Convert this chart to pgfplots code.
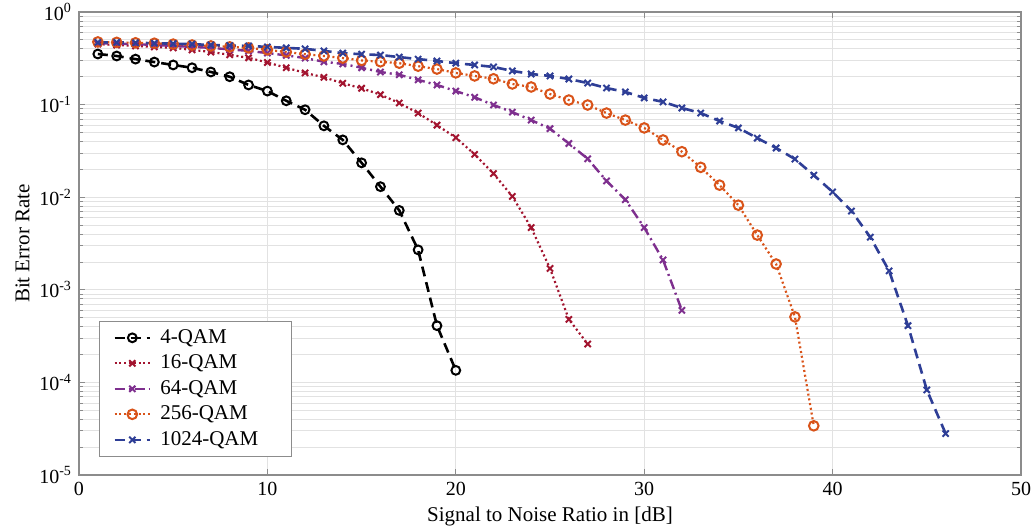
\documentclass[border=0pt]{standalone}
\usepackage{pgfplots}
\pgfplotsset{compat=1.18}
\usepackage{fontspec}
\setmainfont{Liberation Serif}

\definecolor{qam4}{RGB}{0,0,0}
\definecolor{qam16}{RGB}{162,20,47}
\definecolor{qam64}{RGB}{126,47,142}
\definecolor{qam256}{RGB}{217,83,25}
\definecolor{qam1024}{RGB}{46,62,150}
\definecolor{gridgray}{RGB}{226,226,226}
\definecolor{boxgray}{RGB}{140,140,140}

\begin{document}
\begin{tikzpicture}
\begin{semilogyaxis}[
  scale only axis,
  width=471pt, height=231.5pt,
  xmin=0, xmax=50, ymin=1e-5, ymax=1,
  xtick={0,10,20,30,40,50},
  ytick={1e-5,1e-4,1e-3,1e-2,1e-1,1},
  yticklabels={10\textsuperscript{-5},10\textsuperscript{-4},10\textsuperscript{-3},10\textsuperscript{-2},10\textsuperscript{-1},10\textsuperscript{0}},
  /pgf/number format/assume math mode=true,
  tick label style={font=\fontsize{10}{12}\selectfont},
  label style={font=\fontsize{10.5}{12}\selectfont},
  xlabel={Signal to Noise Ratio in [dB]},
  ylabel={Bit Error Rate},
  xlabel style={yshift=1pt},
  ylabel style={yshift=-2pt},
  xmajorgrids, ymajorgrids, yminorgrids,
  major grid style={gridgray, line width=0.5pt},
  minor grid style={gridgray, line width=0.4pt},
  axis line style={boxgray, line width=0.7pt},
  tick style={boxgray, line width=0.4pt},
  major tick length=3pt, minor tick length=2pt,
  tick align=inside,
  legend cell align=left,
  legend style={at={(0.021,0.039)}, anchor=south west, draw=boxgray, line width=0.6pt,
    font=\fontsize{10.5}{12}\selectfont, inner xsep=7pt, inner ysep=2pt,
    row sep=0.3pt, /tikz/column sep=2.5pt},
  legend image code/.code={
    \draw[mark repeat=2,mark phase=2] plot coordinates {(0cm,0cm) (0.31cm,0cm) (0.62cm,0cm)};
  },
]
% 4-QAM
\addplot[qam4, line width=1.3pt, dash pattern=on 5pt off 3pt,
  mark=o, mark size=2.2pt, mark options={solid, line width=1pt}]
  coordinates {
  (1,0.352) (2,0.335) (3,0.31) (4,0.288) (5,0.268) (6,0.25) (7,0.225)
  (8,0.2) (9,0.163) (10,0.14) (11,0.11) (12,0.088) (13,0.059) (14,0.0416)
  (15,0.0235) (16,0.013) (17,0.0072) (18,0.0027) (19,0.00041) (20,0.000135)
  };
\addlegendentry{4-QAM}
% 16-QAM
\addplot[qam16, line width=1.1pt, dash pattern=on 1pt off 1.4pt,
  mark=x, mark size=2.2pt, mark options={solid, line width=1pt}]
  coordinates {
  (1,0.45) (2,0.44) (3,0.43) (4,0.42) (5,0.41) (6,0.39) (7,0.37)
  (8,0.345) (9,0.32) (10,0.285) (11,0.25) (12,0.22) (13,0.197) (14,0.17)
  (15,0.15) (16,0.128) (17,0.104) (18,0.081) (19,0.06) (20,0.044)
  (21,0.029) (22,0.018) (23,0.0102) (24,0.0047) (25,0.0017) (26,0.00048)
  (27,0.00026)
  };
\addlegendentry{16-QAM}
% 64-QAM
\addplot[qam64, line width=1.2pt, dash pattern=on 5pt off 2pt on 1pt off 2pt,
  mark=x, mark size=2.2pt, mark options={solid, line width=1pt}]
  coordinates {
  (1,0.46) (2,0.455) (3,0.45) (4,0.44) (5,0.43) (6,0.42) (7,0.41)
  (8,0.395) (9,0.38) (10,0.36) (11,0.34) (12,0.318) (13,0.29) (14,0.275)
  (15,0.25) (16,0.225) (17,0.21) (18,0.185) (19,0.163) (20,0.14)
  (21,0.12) (22,0.099) (23,0.083) (24,0.068) (25,0.055) (26,0.038)
  (27,0.026) (28,0.015) (29,0.0094) (30,0.0047) (31,0.0021) (32,0.0006)
  };
\addlegendentry{64-QAM}
% 256-QAM
\addplot[qam256, line width=1.1pt, dash pattern=on 1pt off 1.4pt,
  mark=o, mark size=2.4pt, mark options={solid, line width=1pt}]
  coordinates {
  (1,0.475) (2,0.47) (3,0.465) (4,0.46) (5,0.45) (6,0.44) (7,0.43)
  (8,0.42) (9,0.41) (10,0.39) (11,0.37) (12,0.35) (13,0.335) (14,0.318)
  (15,0.30) (16,0.29) (17,0.28) (18,0.26) (19,0.242) (20,0.22)
  (21,0.204) (22,0.19) (23,0.167) (24,0.155) (25,0.13) (26,0.112)
  (27,0.099) (28,0.081) (29,0.068) (30,0.056) (31,0.0415) (32,0.031)
  (33,0.021) (34,0.0135) (35,0.0082) (36,0.0039) (37,0.0019) (38,0.00051)
  (39,0.000034)
  };
\addlegendentry{256-QAM}
% 1024-QAM
\addplot[qam1024, line width=1.3pt, dash pattern=on 5pt off 3pt,
  mark=x, mark size=2.2pt, mark options={solid, line width=1pt}]
  coordinates {
  (1,0.47) (2,0.47) (3,0.465) (4,0.46) (5,0.455) (6,0.45) (7,0.44)
  (8,0.435) (9,0.43) (10,0.42) (11,0.41) (12,0.40) (13,0.38) (14,0.36)
  (15,0.35) (16,0.343) (17,0.326) (18,0.31) (19,0.296) (20,0.28)
  (21,0.268) (22,0.255) (23,0.231) (24,0.214) (25,0.204) (26,0.189)
  (27,0.171) (28,0.151) (29,0.137) (30,0.118) (31,0.107) (32,0.092)
  (33,0.081) (34,0.0665) (35,0.056) (36,0.0435) (37,0.034) (38,0.0258)
  (39,0.0173) (40,0.0114) (41,0.0071) (42,0.0037) (43,0.0016) (44,0.00041)
  (45,0.000083) (46,0.000028)
  };
\addlegendentry{1024-QAM\hspace*{7.5pt}}
\end{semilogyaxis}
\pgfresetboundingbox
\path ([shift={(-39.5pt,-27.5pt)}]current axis.south west)
  rectangle ([shift={(6pt,6pt)}]current axis.north east);
\end{tikzpicture}
\end{document}
